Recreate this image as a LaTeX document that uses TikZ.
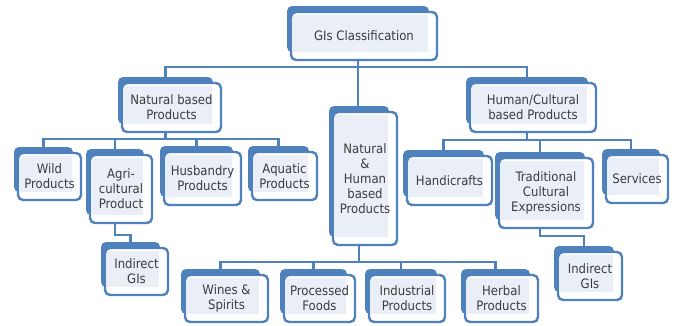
\documentclass[tikz,border=0pt]{standalone}
\usepackage{fontspec}
\setmainfont{DejaVu Sans Condensed}
\definecolor{gblue}{HTML}{4F81BD}
\definecolor{glight}{HTML}{E9EEF7}
\definecolor{gtext}{HTML}{3C3C3C}
\tikzset{
 frontbox/.style={draw=gblue, line width=2.4pt, fill=white, rounded corners=5pt, inner sep=0pt, align=center, text=gtext,
   font=\fontsize{13}{15}\selectfont,
   path picture={\fill[glight, sharp corners] ([xshift=2pt,yshift=-3pt]path picture bounding box.north west) rectangle ([xshift=-9pt,yshift=8pt]path picture bounding box.south east);}},
 backbox/.style={fill=gblue, rounded corners=5pt},
 conn/.style={draw=gblue, line width=2.5pt},
}
\newcommand\gbox[6]{%
 \fill[backbox] (#2-4,#3-6) rectangle (#4-8,#5-8);
 \node[frontbox, minimum width={(#4-#2)*1pt}, minimum height={(#5-#3)*1pt}] (#1) at ({(#2+#4)/2},{(#3+#5)/2}) {#6};
 \coordinate (#1T) at ([xshift=-6pt]#1.north);
 \coordinate (#1B) at ([xshift=-6pt]#1.south);
}
\begin{document}
\begin{tikzpicture}[x=1pt,y=-1pt]
\useasboundingbox (0,0) rectangle (673,325);
\gbox{gis}{291}{12}{437}{60}{GIs Classification}
\gbox{nat}{122}{83}{221}{132}{Natural based\\Products}
\gbox{hum}{470}{83}{596}{132}{Human/Cultural\\based Products}
\gbox{mid}{333}{112}{397}{245}{Natural\\\&\\Human\\based\\Products}
\gbox{wild}{18}{153}{81}{200}{Wild\\Products}
\gbox{agri}{90}{155}{152}{223}{Agri-\\cultural\\Product}
\gbox{husb}{164}{152}{241}{205}{Husbandry\\Products}
\gbox{aqua}{252}{152}{317}{200}{Aquatic\\Products}
\gbox{indl}{105}{248}{168}{295}{Indirect\\GIs}
\gbox{hand}{407}{156}{492}{205}{Handicrafts}
\gbox{trad}{499}{158}{593}{228}{Traditional\\Cultural\\Expressions}
\gbox{serv}{606}{155}{668}{203}{Services}
\gbox{indr}{558}{252}{622}{300}{Indirect\\GIs}
\gbox{wine}{185}{275}{268}{322}{Wines \&\\Spirits}
\gbox{proc}{284}{275}{355}{322}{Processed\\Foods}
\gbox{indu}{369}{275}{445}{322}{Industrial\\Products}
\gbox{herb}{465}{275}{538}{322}{Herbal\\Products}
% buses
\coordinate (bus0) at (0,67);
\coordinate (bus1) at (0,139);
\coordinate (bus2) at (0,140);
\coordinate (bus3) at (0,262);
% level 1
\draw[conn] (gisB) -- (gisB |- midT);
\draw[conn] (natT) |- (bus0 -| humT) -- (humT);
% natural based
\draw[conn] (natB) -- (natB |- bus1);
\draw[conn] (wildT) |- (bus1 -| aquaT) -- (aquaT);
\draw[conn] (agriT) -- (agriT |- bus1);
\draw[conn] (husbT) -- (husbT |- bus1);
\draw[conn] (agriB) -- ++(0,11) -| (indlT);
% human/cultural
\draw[conn] (humB) -- (humB |- bus2);
\draw[conn] (handT) |- (bus2 -| servT) -- (servT);
\draw[conn] (tradT) -- (tradT |- bus2);
\draw[conn] (tradB) -- ++(0,7) -| (indrT);
% natural & human
\draw[conn] (midB) -- (midB |- bus3);
\draw[conn] (wineT) |- (bus3 -| herbT) -- (herbT);
\draw[conn] (procT) -- (procT |- bus3);
\draw[conn] (induT) -- (induT |- bus3);
\end{tikzpicture}
\end{document}
